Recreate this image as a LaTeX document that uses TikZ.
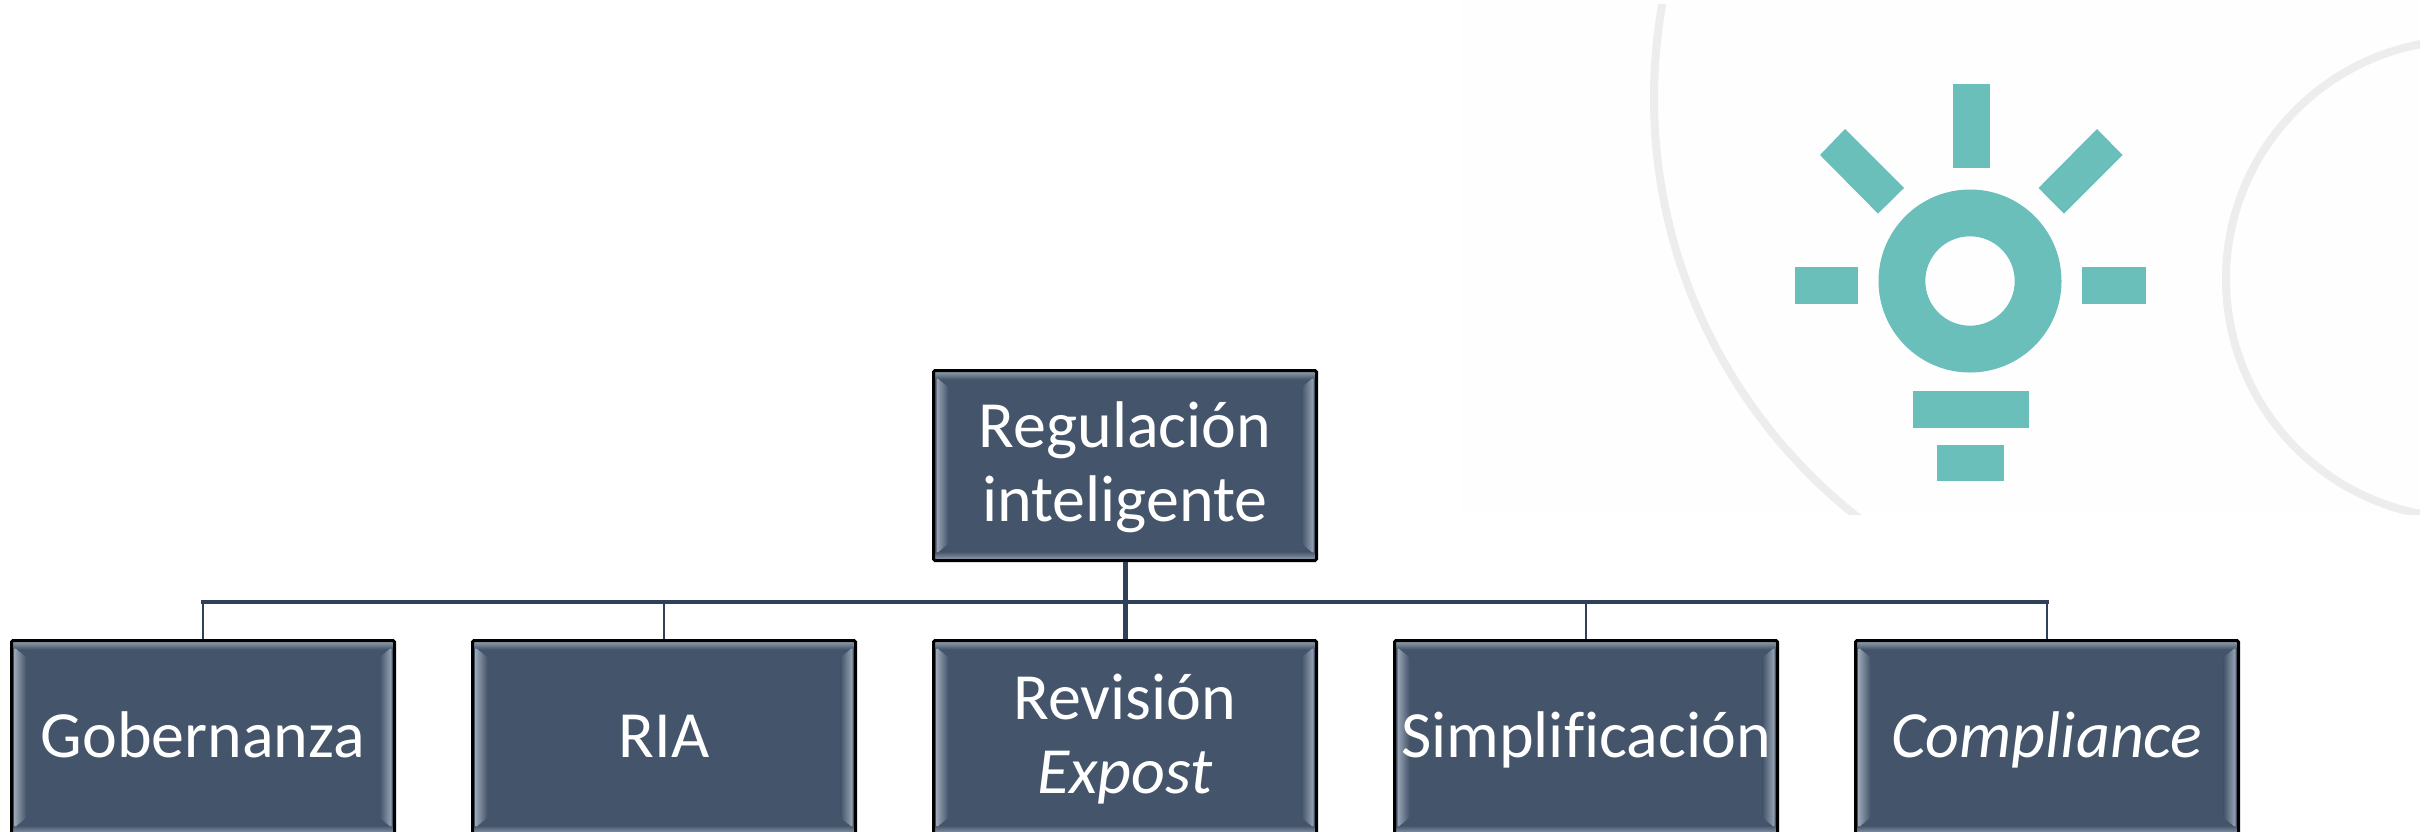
\documentclass[tikz,border=0pt]{standalone}
\usepackage{fontspec}
\setmainfont{Carlito}[Ligatures=CommonOff]
\usetikzlibrary{positioning}
\definecolor{boxfill}{HTML}{44546A}
\definecolor{boxedge}{HTML}{98A5B4}
\definecolor{boxglow}{HTML}{C4D6EA}
\definecolor{busline}{HTML}{2F405A}
\definecolor{bulbteal}{HTML}{6ABFBA}
\definecolor{ringgrey}{HTML}{EDEDED}
\definecolor{iconback}{HTML}{FEFEFE}
\tikzset{
    bevelbox/.style={draw=black, line width=3pt, rounded corners=1.5pt, fill=boxfill, text=white,
        minimum width=383pt, minimum height=190pt, inner sep=0pt, align=center,
        font=\fontsize{66}{74}\selectfont,
        execute at begin node={\rule{0pt}{55pt}},
        execute at end node={\rule[-15pt]{0pt}{15pt}},
        path picture={
            \coordinate (nw) at (path picture bounding box.north west);
            \coordinate (se) at (path picture bounding box.south east);
            \coordinate (ne) at (nw -| se);
            \coordinate (sw) at (nw |- se);
            \shade[top color=boxedge, bottom color=boxfill] (nw) rectangle ([shift={(0,9)}]ne);
            \shade[top color=boxfill, bottom color=boxedge] ([shift={(0,-9)}]sw) rectangle (se);
            \shade[left color=boxedge, middle color=boxglow, right color=boxfill]
                ([shift={(3,7)}]nw) -- ([shift={(15,17)}]nw) -- ([shift={(15,-17)}]sw) -- ([shift={(3,-7)}]sw) -- cycle;
            \shade[left color=boxfill, middle color=boxglow, right color=boxedge]
                ([shift={(-3,7)}]ne) -- ([shift={(-15,17)}]ne) -- ([shift={(-15,-17)}]se) -- ([shift={(-3,-7)}]se) -- cycle;
        }},
    kidbox/.style={bevelbox, minimum height=194pt},
    twolines/.style={execute at begin node={\rule{0pt}{126pt}}, execute at end node={\rule[-#1]{0pt}{#1}}},
    busstem/.style={draw=busline, line width=2.5pt},
    bulbpart/.style={fill=bulbteal, draw=none}
}
\begin{document}
\begin{tikzpicture}[x=1pt, y=-1pt]
\useasboundingbox (0,0) rectangle (2428,831);
% icon
\fill[iconback] (1460,0) rectangle (2420,514);
\begin{scope}
    \clip (1460,4) rectangle (2420,514);
    \draw[ringgrey, line width=8pt] (2187,98) circle (533);
    \draw[ringgrey, line width=8pt] (2465,279) circle (239);
\end{scope}
\begin{scope}[shift={(-3,-1)}]
\fill[bulbpart, even odd rule] (1973,282) circle (91.5) (1973,282) circle (44.7);
\fill[bulbpart] (1956,85) rectangle (1993,169);
\fill[bulbpart] (1797.5,268) rectangle (1861,305);
\fill[bulbpart] (2084.5,268) rectangle (2148.5,305);
\fill[bulbpart] (1916,392) rectangle (2032,429);
\fill[bulbpart] (1940,445.5) rectangle (2007,482);
\fill[bulbpart] (1848,130) -- (1823,156) -- (1881,214.6) -- (1907,189) -- cycle;
\fill[bulbpart] (2100,130) -- (2125.5,156) -- (2067,214.6) -- (2041.5,189) -- cycle;
\end{scope}
% boxes
\node[bevelbox, twolines=11pt] (reg) at (1125,465.5) {Regulación\\inteligente};
\node[kidbox, twolines=15pt, below=77pt of reg] (rev) {Revisión\\\textit{Expost}};
\node[kidbox, left=75pt of rev] (ria) {RIA};
\node[kidbox, left=75pt of ria] (gob) {Gobernanza};
\node[kidbox, right=75pt of rev] (sim) {Simplificación};
\node[kidbox, right=75pt of sim] (com) {\textit{Compliance}};
% connectors
\coordinate (bus) at (1125,602);
\draw[busline, line width=5pt] (reg.south) -- (rev.north);
\draw[draw=busline, line width=3.5pt, line cap=rect] (gob.north |- bus) -- (com.north |- bus);
\foreach \kid in {gob,ria,sim,com}
    \draw[busstem] (\kid.north) -- (\kid.north |- bus);
\end{tikzpicture}
\end{document}
